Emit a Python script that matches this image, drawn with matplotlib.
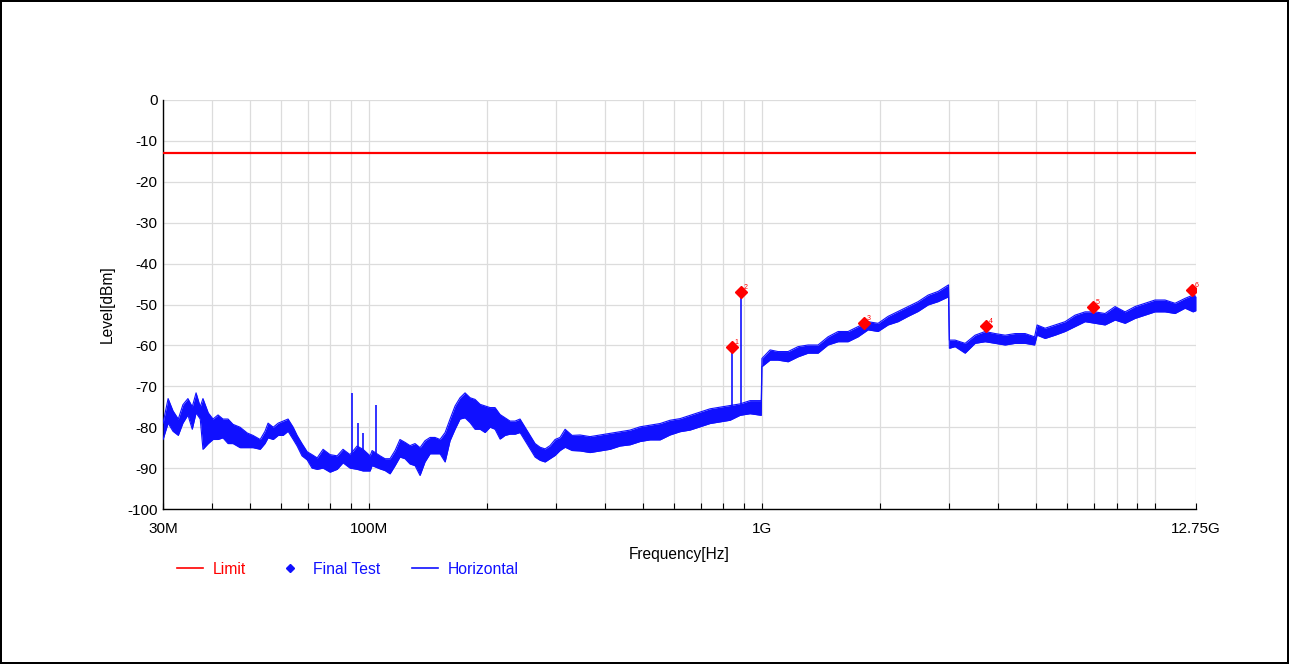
import matplotlib.pyplot as plt
from matplotlib.lines import Line2D
from matplotlib.ticker import FixedLocator, NullFormatter

# Limit line (dBm)
limit_level = -13

# Horizontal trace: frequency (MHz) with top and bottom of the noise band (dBm)
freq_mhz = [30.0, 30.9, 31.8, 32.8, 33.7, 34.7, 35.6, 36.4, 37.3, 37.9,
            39.1, 40.2, 41.4, 42.6, 43.9, 45.2, 47.1, 49.1, 50.8, 53.0,
            54.5, 55.5, 57.2, 58.9, 60.6, 62.4, 64.3, 65.8, 67.7, 69.8,
            71.8, 74.0, 76.6, 79.8, 83.2, 86.1, 89.7, 93.5, 96.8, 100.9,
            102.1, 107.0, 110.1, 113.4, 116.8, 120.2, 123.8, 127.5, 131.3, 135.2,
            139.2, 143.4, 147.6, 152.0, 156.6, 161.2, 166.0, 170.9, 176.0, 181.3,
            186.6, 192.2, 197.9, 203.8, 209.8, 216.1, 222.5, 229.1, 235.9, 242.9,
            250.2, 257.6, 265.3, 273.2, 281.3, 289.6, 298.3, 307.1, 316.3, 329.5,
            345.3, 366.1, 388.2, 411.6, 436.4, 462.8, 490.7, 520.3, 551.7, 584.9,
            620.2, 657.6, 697.3, 739.4, 784.0, 831.3, 881.4, 934.7, 998, 1002,
            1051, 1101, 1168, 1238, 1313, 1392, 1476, 1566, 1660, 1760,
            1866, 1979, 2098, 2225, 2359, 2502, 2653, 2813, 2990, 3005,
            3107, 3295, 3494, 3705, 3928, 4165, 4416, 4683, 4950, 5024,
            5265, 5583, 5919, 6276, 6655, 7056, 7481, 7933, 8411, 8918,
            9457, 10026, 10632, 11272, 11953, 12527, 12750]
level_hi = [-79, -73, -76, -78, -74.5, -73, -75, -71.6, -75, -73,
            -76.5, -78, -77, -78, -78, -79.3, -80, -81.4, -82, -83,
            -81, -79, -80, -79, -78.5, -78, -80, -82, -84, -86,
            -86.7, -87.5, -85.4, -86.7, -87, -85.4, -86.7, -84.6, -85.4, -87,
            -85.7, -87, -87.7, -87.7, -85.7, -83, -83.7, -84.5, -84, -85,
            -83.3, -82.5, -82.5, -83, -81.3, -78, -74.8, -72.8, -71.6, -72.8,
            -73.2, -74.4, -74.8, -75.2, -75.2, -76.9, -77.7, -78.5, -78.5, -78,
            -80, -82, -84, -84.9, -85.3, -84.5, -83, -82.5, -80.5, -82,
            -81.9, -82.3, -81.9, -81.5, -81.1, -80.7, -79.9, -79.5, -79.1, -78.3,
            -77.9, -77.1, -76.3, -75.5, -75.1, -74.7, -74.3, -73.5, -73.5, -63.2,
            -61.1, -61.5, -61.5, -60.3, -59.9, -59.9, -57.9, -56.6, -56.6, -55.4,
            -54.2, -54.6, -52.9, -51.7, -50.5, -49.3, -47.7, -46.8, -45.2, -58.7,
            -58.7, -59.5, -57.5, -56.6, -57.1, -57.5, -57.1, -57.1, -57.9, -55.0,
            -55.8, -55.0, -54.2, -52.6, -51.8, -51.8, -52.2, -50.5, -51.8, -50.5,
            -49.7, -48.9, -48.9, -49.7, -48.5, -47.7, -48]
level_lo = [-83, -79, -81, -82, -79, -77, -80.5, -76.5, -78, -85.4,
            -84, -83, -83, -82.6, -84, -84, -85, -85, -85, -85.4,
            -84, -82.6, -83, -82, -82, -81, -83, -84.6, -87, -88,
            -90, -90.3, -90, -91, -90.3, -88.7, -90, -90.3, -90.7, -90.7,
            -89.4, -90.2, -90.6, -91.4, -89.4, -87.3, -87.7, -89, -89.4, -91.8,
            -88.5, -86.5, -86.5, -86.5, -88.5, -83.3, -80.5, -78, -77.7, -78.9,
            -80.5, -80.5, -81.3, -80, -80.5, -82.9, -82, -81.7, -81.7, -81.3,
            -83.3, -85.3, -87.3, -88.1, -88.5, -87.7, -86.9, -85.7, -84.9, -85.7,
            -85.8, -86.2, -85.8, -85.4, -84.6, -84.3, -83.5, -83.1, -83.1, -81.9,
            -81.1, -80.7, -79.9, -79.1, -78.7, -78.3, -77.1, -76.7, -77.1, -65.2,
            -63.6, -63.6, -64, -62.8, -61.9, -61.9, -59.9, -59.1, -59.1, -57.9,
            -56.2, -56.6, -55, -54.2, -52.9, -51.7, -50.1, -49.3, -48.1, -60.7,
            -60.3, -61.9, -59.5, -59.1, -59.5, -59.9, -59.5, -59.5, -59.9, -57.5,
            -58.3, -57.5, -56.6, -55.4, -54.2, -54.6, -55.0, -53.8, -54.6, -53.4,
            -52.6, -51.8, -51.8, -52.2, -50.9, -51.8, -51.5]

# Narrow spikes on the trace
spike_mhz = [90.8, 94.0, 96.8, 104.5, 839.6, 885.0]
spike_top = [-71.7, -79.0, -81.5, -74.6, -60.3, -46.9]
spike_base = [-88, -88, -89, -88, -77, -76]

# Final Test points
final_mhz = [839.6, 885.0, 1819.6, 3720, 6988, 12438]
final_level = [-60.3, -46.9, -54.4, -55.3, -50.5, -46.5]

major_hz = [30e6, 100e6, 1e9, 12.75e9]
major_labels = ['30M', '100M', '1G', '12.75G']
y_ticks = list(range(0, -101, -10))

BLUE = '#1010ff'


def main():
    plt.rcParams['font.family'] = ['Liberation Sans', 'DejaVu Sans']
    plt.rcParams['axes.unicode_minus'] = False

    fig = plt.figure(figsize=(12.89, 6.64), dpi=100)
    fig.patch.set_edgecolor('black')
    fig.patch.set_linewidth(1.5)
    ax = fig.add_axes([0.1265, 0.2334, 0.8014, 0.616])

    hz = [f * 1e6 for f in freq_mhz]

    # Limit
    ax.axhline(limit_level, color='red', lw=1.6, zorder=3)

    # Trace as a noise band
    ax.fill_between(hz, level_lo, level_hi, color=BLUE, lw=0, zorder=4)
    ax.plot(hz, level_hi, color=BLUE, lw=0.8, zorder=4)
    ax.plot(hz, level_lo, color=BLUE, lw=0.8, zorder=4)
    ax.vlines([f * 1e6 for f in spike_mhz], spike_base, spike_top,
              color=BLUE, lw=1.2, zorder=4)

    # Final test markers with their numbers
    final_hz = [f * 1e6 for f in final_mhz]
    ax.plot(final_hz, final_level, 'D', color='red', ms=6.5, zorder=5)
    for i, (f, lv) in enumerate(zip(final_hz, final_level)):
        ax.annotate(str(i + 1), (f, lv), xytext=(2, 2), textcoords='offset points',
                    fontsize=5, color='red', zorder=6)

    # Axes
    ax.set_xscale('log')
    ax.set_xlim(30e6, 12.75e9)
    ax.set_ylim(-100, 0)
    ax.xaxis.set_major_locator(FixedLocator(major_hz))
    ax.set_xticklabels(major_labels)
    minor = [m * 10 ** e for e in (7, 8, 9) for m in range(2, 10)] + [10e9]
    minor = [m for m in minor if 30e6 < m < 12.75e9 and m not in (100e6, 1e9)]
    ax.xaxis.set_minor_locator(FixedLocator(minor))
    ax.xaxis.set_minor_formatter(NullFormatter())
    ax.set_yticks(y_ticks)

    ax.grid(True, which='both', color='#dcdcdc', lw=0.9, zorder=0)
    ax.set_axisbelow(True)
    ax.tick_params(axis='x', which='both', direction='in', length=4, width=0.8,
                   labelsize=11, pad=9)
    ax.tick_params(axis='y', length=0, labelsize=11, pad=4)
    for s in ('top', 'right'):
        ax.spines[s].set_visible(False)
    ax.spines['left'].set_linewidth(1.0)
    ax.spines['bottom'].set_linewidth(1.0)

    ax.set_xlabel('Frequency[Hz]', fontsize=11.2, labelpad=8)
    ax.set_ylabel('Level[dBm]', fontsize=11.2, labelpad=9)

    # Legend
    handles = [Line2D([], [], color='red', lw=1.2),
               Line2D([], [], color=BLUE, marker='D', ms=4.5, ls='none'),
               Line2D([], [], color=BLUE, lw=1.2)]
    fig.legend(handles, ['Limit', 'Final Test', 'Horizontal'], loc='center left',
               bbox_to_anchor=(0.1262, 0.143), ncol=3, frameon=False, fontsize=11.3,
               labelcolor=['red', BLUE, BLUE], handlelength=1.65, columnspacing=2.0,
               handletextpad=0.64)

    plt.savefig('out.png', dpi=100, edgecolor=fig.get_edgecolor())


if __name__ == "__main__":
    main()
